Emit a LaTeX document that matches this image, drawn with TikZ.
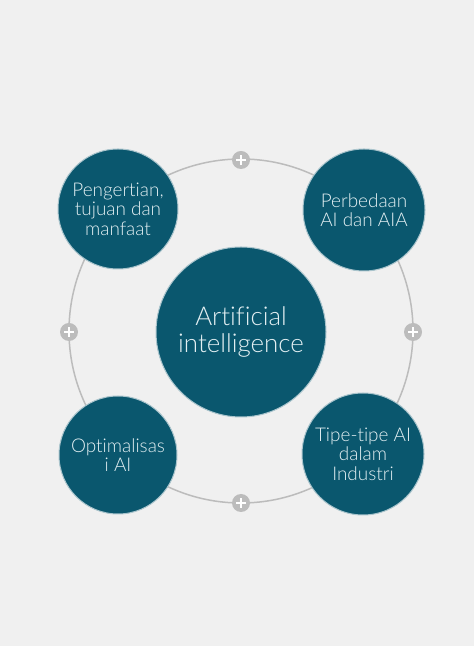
\documentclass[tikz,border=0pt]{standalone}
\usepackage{fontspec}
\setmainfont{Lato}[UprightFont=* Light, Ligatures=NoCommon]
\usetikzlibrary{positioning}
\definecolor{tealdark}{RGB}{10,87,110}
\definecolor{ringgray}{RGB}{188,188,188}
\definecolor{bggray}{RGB}{240,240,240}
\definecolor{txtlight}{RGB}{228,240,243}
\tikzset{
  topic/.style={circle, fill=tealdark, draw=tealdark!35!white, line width=1bp,
    minimum size=120bp, inner sep=0pt, text=txtlight, align=center,
    font=\fontsize{19}{19.5}\selectfont},
  hub/.style={topic, minimum size=170bp, font=\fontsize{26}{28}\selectfont},
  plusdot/.style={circle, fill=ringgray, minimum size=18bp, inner sep=0pt}
}

\begin{document}
\begin{tikzpicture}[x=1bp,y=1bp]
\fill[bggray] (0,0) rectangle (474,646);
\useasboundingbox (0,0) rectangle (474,646);
% ring with plus dots
\draw[ringgray, line width=1.5bp] (241,315) circle (172);
\node[plusdot] (pt) at (241,486) {};
\node[plusdot] (pb) at (241,143) {};
\node[plusdot] (pl) at (69,314) {};
\node[plusdot] (pr) at (413,314) {};
\foreach \p in {pt,pb,pl,pr} {
  \draw[white, line width=2.5bp] ([xshift=-5bp]\p.center) -- ([xshift=5bp]\p.center);
  \draw[white, line width=2.5bp] ([yshift=-5bp]\p.center) -- ([yshift=5bp]\p.center);
}
% circles
\node[hub] (ai) at (241,314) {Artificial\\intelligence};
\node[topic] (tl) at (118,437) {Pengertian,\\tujuan dan\\manfaat};
\node[topic, minimum size=122bp] (tr) at (364,436) {Perbedaan\\AI dan AIA};
\node[topic, minimum size=118bp] (bl) at (118,191) {Optimalisas\\i AI};
\node[topic, minimum size=122bp] (br) at (363,192) {Tipe-tipe AI\\dalam\\Industri};
\end{tikzpicture}
\end{document}
